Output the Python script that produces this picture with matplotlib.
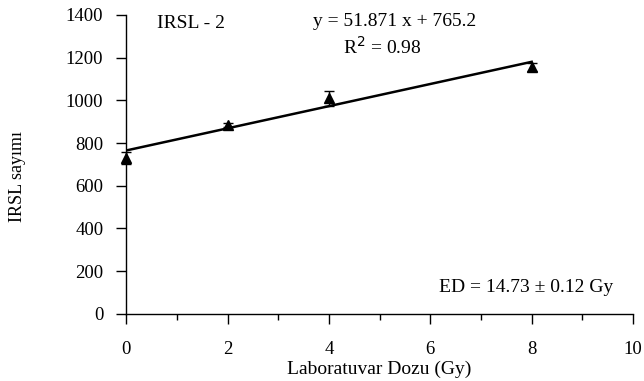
import matplotlib
matplotlib.use("Agg")
import matplotlib.pyplot as plt
import numpy as np
from matplotlib.ticker import MultipleLocator

plt.rcParams['font.family'] = ['Liberation Serif', 'DejaVu Serif']

dose = [0, 2, 4, 8]
counts = [730, 884, 1010, 1155]
errors = [30, 10, 35, 20]
slope = 51.871
intercept = 765.2
xticks = [0, 2, 4, 6, 8, 10]
yticks = [0, 200, 400, 600, 800, 1000, 1200, 1400]

FS = 14

fig = plt.figure(figsize=(6.44, 3.81), dpi=100)
ax = fig.add_axes([0.196, 0.176, 0.787, 0.785])

fit_x = np.array([dose[0], dose[-1]])
ax.plot(fit_x, slope * fit_x + intercept, color='black', lw=1.8, zorder=2)
ax.errorbar(dose, counts, yerr=errors, fmt='^', color='black', ms=7.5,
            ecolor='black', elinewidth=1, capsize=3.5, capthick=1, zorder=3, clip_on=False)

ax.set_xlim(0, 10)
ax.set_ylim(0, 1400)
ax.set_xticks(xticks)
ax.set_yticks(yticks)
ax.xaxis.set_minor_locator(MultipleLocator(1))
ax.spines['top'].set_visible(False)
ax.spines['right'].set_visible(False)
for s in ['left', 'bottom']:
    ax.spines[s].set_linewidth(1.0)
ax.tick_params(axis='both', which='major', direction='out', length=7.5, width=1, labelsize=13.5)
ax.tick_params(axis='x', which='major', pad=12)
ax.tick_params(axis='x', which='minor', direction='out', length=4, width=1)
ax.tick_params(axis='y', which='major', pad=9)

ax.set_xlabel('Laboratuvar Dozu (Gy)', fontsize=FS)
ax.xaxis.set_label_coords(0.5, -0.184)
ax.xaxis.label.set_va('center')
ax.set_ylabel('IRSL sayımı', fontsize=13)
ax.yaxis.set_label_coords(-0.214, 0.46)
ax.yaxis.label.set_va('center')

ax.text(0.6, 1358, 'IRSL - 2', fontsize=FS, va='center', ha='left')
ax.text(6.9, 1367, 'y = 51.871 x + 765.2', fontsize=FS, va='center', ha='right')
ax.text(5.82, 1250, r'R$^{2}$ = 0.98', fontsize=FS, va='center', ha='right')
ax.text(9.6, 126, 'ED = 14.73 ± 0.12 Gy', fontsize=FS, va='center', ha='right')

fig.savefig('out.png', dpi=100)
